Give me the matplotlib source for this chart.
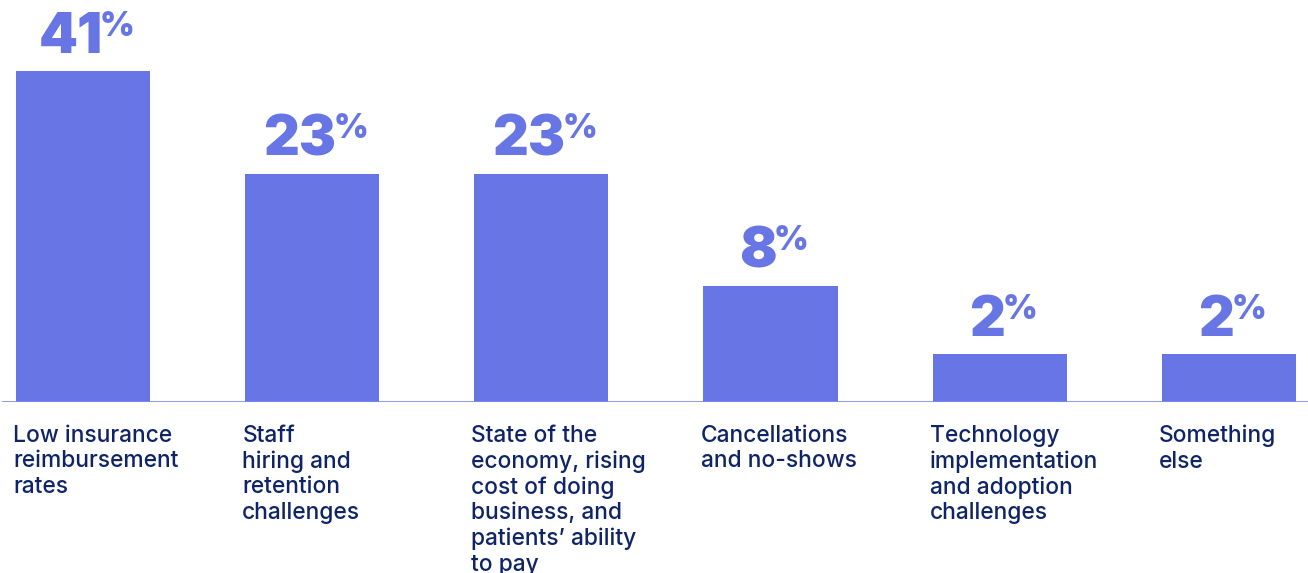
import numpy as np
import matplotlib
matplotlib.use("Agg")
import matplotlib.pyplot as plt

categories = [
    "Low insurance\nreimbursement\nrates",
    "Staff\nhiring and\nretention\nchallenges",
    "State of the\neconomy, rising\ncost of doing\nbusiness, and\npatients\u2019 ability\nto pay",
    "Cancellations\nand no-shows",
    "Technology\nimplementation\nand adoption\nchallenges",
    "Something\nelse",
]
values = [41, 23, 23, 8, 2, 2]

BAR = "#6776E4"
NAVY = "#0E2466"
BASE = "#7D8AF0"

W, H = 1308, 573
fig = plt.figure(figsize=(W / 100, H / 100), dpi=100)
ax = fig.add_axes([2 / W, (H - 402) / H, (W - 2) / W, 402 / H])

# compressed value axis so the small shares stay visible
p = 0.64
ax.set_yscale("function", functions=(lambda v: np.sign(v) * np.abs(v) ** p,
                                     lambda v: np.sign(v) * np.abs(v) ** (1 / p)))
ax.set_ylim(0, 55.6)
ax.set_xlim(-0.353, 5.345)

x = np.arange(len(values))
ax.bar(x, values, width=0.585, color=BAR, zorder=2)
ax.axhline(0, color=BASE, lw=1.2, zorder=3)

for s in ax.spines.values():
    s.set_visible(False)
ax.set_xticks([])
ax.set_yticks([])

for xi, v, lab in zip(x, values, categories):
    num = ax.annotate(str(v), xy=(xi, v), xytext=(-9, 13), textcoords="offset points",
                      ha="center", va="baseline", fontsize=40, fontweight="black",
                      family="Inter", color=BAR)
    ax.annotate("%", xy=(1, 1), xycoords=num, xytext=(-2, 1), textcoords="offset points",
                ha="left", va="top", fontsize=24, fontweight="black",
                family="Inter", color=BAR)
    ax.annotate(lab, xy=(xi - 0.2925, 0), xytext=(-2, -16.5), textcoords="offset points",
                ha="left", va="top", fontsize=16.4, fontweight="medium",
                family="Inter", color=NAVY, linespacing=1.2)

fig.savefig("out.png", dpi=100)
